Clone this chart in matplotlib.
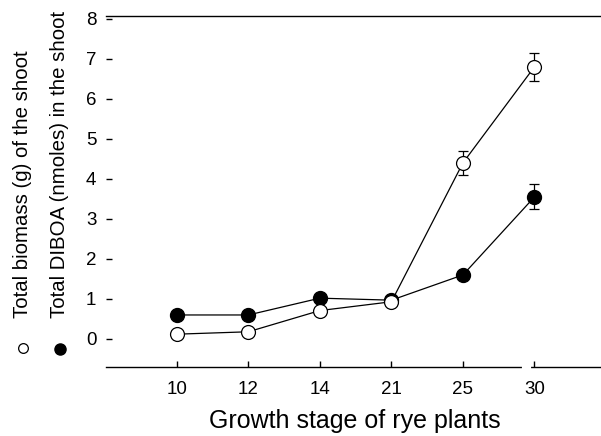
import numpy as np
import matplotlib
matplotlib.use("Agg")
import matplotlib.pyplot as plt
from matplotlib.lines import Line2D

plt.rcParams['font.family'] = ['Liberation Sans', 'DejaVu Sans']

stages = ["10", "12", "14", "21", "25", "30"]
biomass = [0.12, 0.18, 0.71, 0.93, 4.4, 6.8]
biomass_err = [0, 0, 0, 0, 0.3, 0.35]
diboa = [0.6, 0.6, 1.02, 0.97, 1.6, 3.55]
diboa_err = [0, 0, 0, 0, 0, 0.31]

W, H = 601, 436
fig = plt.figure(figsize=(W/100, H/100), dpi=100)
ax = fig.add_axes([106/W, 1 - 367/H, 1 - 106/W, (367 - 16)/H])

x = np.arange(len(stages))
ax.errorbar(x, diboa, yerr=diboa_err,
            color='black', lw=0.9, marker='o', ms=10, mfc='black', mec='black',
            capsize=3.5, elinewidth=0.9, capthick=0.9, zorder=3)
ax.errorbar(x, biomass, yerr=biomass_err,
            color='black', lw=0.9, marker='o', ms=10, mfc='white', mec='black',
            mew=0.9, capsize=3.5, elinewidth=0.9, capthick=0.9, zorder=4)

ax.set_xlim(-0.99, 5.93)
ax.set_ylim(-0.7, 8.07)
ax.set_xticks(x)
ax.set_xticklabels(stages)
ax.set_yticks(range(0, 9))

ax.spines['left'].set_visible(False)
ax.spines['right'].set_visible(False)
for s in ['top', 'bottom']:
    ax.spines[s].set_linewidth(1.0)
ax.tick_params(axis='both', direction='in', length=4, width=1, labelsize=13.5)
ax.tick_params(axis='y', pad=7)
ax.tick_params(axis='x', pad=10)

# small break in the bottom axis near 30
ax.plot([4.86, 4.93], [0, 0], color='white', lw=3,
        transform=ax.get_xaxis_transform(), clip_on=False, zorder=5)

fig.text(355/W, 1 - 421/H, "Growth stage of rye plants", ha='center', va='center',
         fontsize=18)

fig.text(23/W, 1 - 318/H, "Total biomass (g) of the shoot", rotation=90,
         ha='center', va='bottom', fontsize=14.7)
fig.text(60/W, 1 - 318/H, "Total DIBOA (nmoles) in the shoot", rotation=90,
         ha='center', va='bottom', fontsize=14.7)
fig.add_artist(Line2D([23/W], [1 - 348/H], transform=fig.transFigure, marker='o',
                      ms=7, mfc='white', mec='black', mew=0.9, ls='none'))
fig.add_artist(Line2D([60/W], [1 - 349/H], transform=fig.transFigure, marker='o',
                      ms=8, mfc='black', mec='black', ls='none'))

fig.savefig("out.png", dpi=100)
